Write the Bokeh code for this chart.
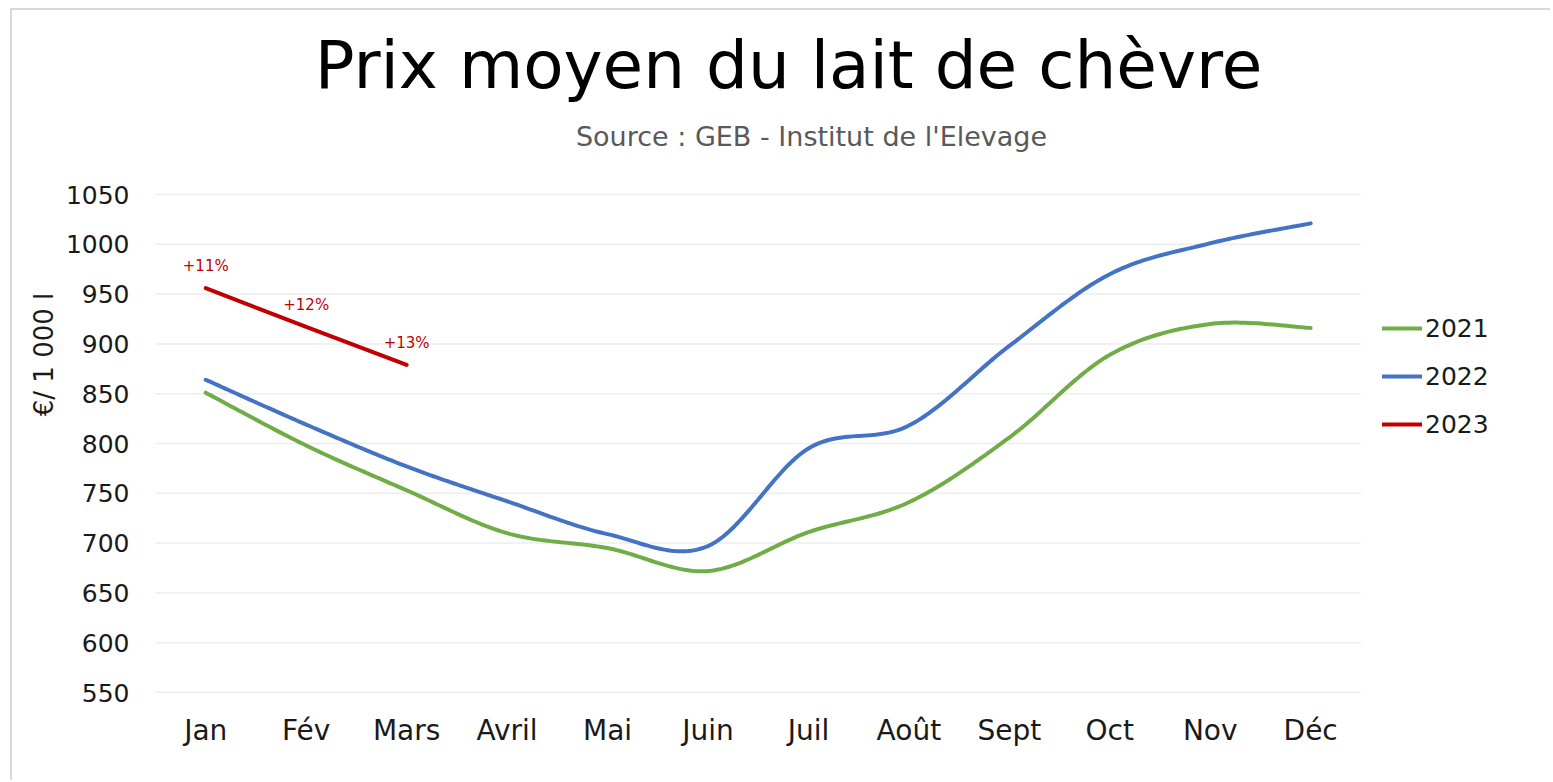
from bokeh.plotting import figure
from bokeh.models import Range1d, FixedTicker, Label, Legend, LegendItem
from bokeh.embed import file_html
from bokeh.resources import INLINE
import numpy as np

months = ["Jan", "Fév", "Mars", "Avril", "Mai", "Juin", "Juil", "Août", "Sept", "Oct", "Nov", "Déc"]
y2021 = [851, 798, 753, 710, 695, 672, 711, 741, 806, 889, 920, 916]
y2022 = [864, 819, 777, 742, 709, 697, 795, 818, 898, 970, 1001, 1021]
y2023 = [956, 917, 879]
labels2023 = ["+11%", "+12%", "+13%"]
yticks = [550, 600, 650, 700, 750, 800, 850, 900, 950, 1000, 1050]
title_text = "Prix moyen du lait de chèvre"
subtitle_text = "Source : GEB - Institut de l'Elevage"

FONT = "DejaVu Sans"


def smooth(xs, ys, n=30):
    # Catmull-Rom style smoothing (like Excel's smoothed line) for drawing only
    xs = np.asarray(xs, float)
    ys = np.asarray(ys, float)
    if len(xs) < 3:
        return list(xs), list(ys)
    px = np.concatenate([[xs[0]], xs, [xs[-1]]])
    py = np.concatenate([[ys[0]], ys, [ys[-1]]])
    ox, oy = [], []
    for i in range(1, len(px) - 2):
        p0 = np.array([px[i - 1], py[i - 1]])
        p1 = np.array([px[i], py[i]])
        p2 = np.array([px[i + 1], py[i + 1]])
        p3 = np.array([px[i + 2], py[i + 2]])
        c1 = p1 + (p2 - p0) / 6.0
        c2 = p2 - (p3 - p1) / 6.0
        t = np.linspace(0, 1, n, endpoint=(i == len(px) - 3))
        b = ((1 - t) ** 3)[:, None] * p1 + (3 * (1 - t) ** 2 * t)[:, None] * c1 + \
            (3 * (1 - t) * t ** 2)[:, None] * c2 + (t ** 3)[:, None] * p2
        ox.extend(b[:, 0]); oy.extend(b[:, 1])
    return ox, oy


W, H = 1550, 780
FL, FR, FT, FB = 155, 1540, 16, 692          # frame edges in canvas pixels
xpx = 100.45                                   # pixels per month
ypx = 0.996                                    # pixels per € unit
x0 = -0.5
x1 = x0 + (FR - FL) / xpx
y0 = yticks[0]
y1 = y0 + (FB - FT) / ypx

p = figure(width=W, height=H, output_backend="svg", toolbar_location=None,
           x_range=Range1d(x0, x1), y_range=Range1d(y0, y1),
           min_border_left=FL, min_border_right=W - FR, min_border_top=FT,
           min_border_bottom=H - FB)
p.border_fill_color = None
p.background_fill_color = None
p.outline_line_color = None
p.styles = {"box-shadow": "inset 10px 8px 0 0 white, inset 12px 10px 0 0 #d9d9d9"}

p.xaxis.ticker = FixedTicker(ticks=list(range(len(months))))
p.xaxis.major_label_overrides = {i: m for i, m in enumerate(months)}
p.yaxis.ticker = FixedTicker(ticks=yticks)
for ax in (p.xaxis, p.yaxis):
    ax.axis_line_color = None
    ax.major_tick_line_color = None
    ax.minor_tick_line_color = None
    ax.major_label_text_font = FONT
    ax.major_label_text_color = "#1a1a1a"
p.xaxis.major_label_text_font_size = "28px"
p.yaxis.major_label_text_font_size = "25px"
p.xaxis.major_label_standoff = 15
p.yaxis.major_label_standoff = 20
p.yaxis.axis_label = "€/ 1 000 l"
p.yaxis.axis_label_text_font = FONT
p.yaxis.axis_label_text_font_size = "26px"
p.yaxis.axis_label_text_font_style = "normal"
p.yaxis.axis_label_text_color = "#1a1a1a"
p.yaxis.axis_label_standoff = 4
p.xgrid.grid_line_color = None
p.ygrid.grid_line_color = None

# horizontal gridlines limited to the month area
nx = len(months)
p.segment(x0=[-0.5] * len(yticks), x1=[nx - 0.5] * len(yticks), y0=yticks, y1=yticks,
          line_color=["#d9d9d9"] + ["#ededed"] * (len(yticks) - 1), line_width=1.5)

r21 = p.line(*smooth(range(len(y2021)), y2021), line_color="#70ad47", line_width=4, line_cap="round")
r22 = p.line(*smooth(range(len(y2022)), y2022), line_color="#4472c4", line_width=4, line_cap="round")
r23 = p.line(list(range(len(y2023))), y2023, line_color="#c00000", line_width=4, line_cap="round")

for x, y, t in zip(range(len(y2023)), y2023, labels2023):
    p.add_layout(Label(x=x, y=y, y_offset=13, text=t, text_font=FONT, text_font_size="15px",
                       text_color="#c00000", text_align="center", text_baseline="bottom"))

# Title and subtitle
p.add_layout(Label(x=x0 + (788 - FL) / xpx, y=y0 + (FB - 65) / ypx, text=title_text,
                   text_font=FONT, text_font_size="66px", text_color="#000000",
                   text_align="center", text_baseline="alphabetic"))
p.add_layout(Label(x=x0 + (811 - FL) / xpx, y=y0 + (FB - 136) / ypx, text=subtitle_text,
                   text_font=FONT, text_font_size="27px", text_color="#595959",
                   text_align="center", text_baseline="alphabetic"))

legend = Legend(items=[LegendItem(label="2021", renderers=[r21]),
                       LegendItem(label="2022", renderers=[r22]),
                       LegendItem(label="2023", renderers=[r23])],
                location=(1382 - FL, FB - 439))
legend.label_text_font = FONT
legend.label_text_font_size = "25px"
legend.label_text_color = "#1a1a1a"
legend.glyph_width = 40
legend.glyph_height = 30
legend.label_height = 30
legend.label_standoff = 3
legend.spacing = 18
legend.padding = 0
legend.margin = 0
legend.border_line_color = None
legend.background_fill_color = None
p.add_layout(legend)

open("out.html", "w").write(file_html(p, INLINE))
